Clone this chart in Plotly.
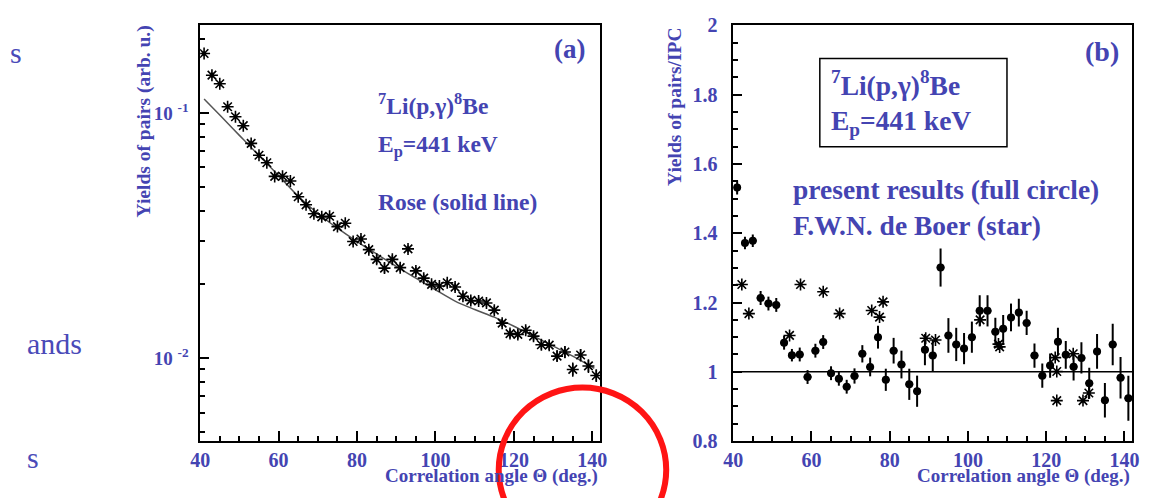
import plotly.graph_objects as go
from plotly.subplots import make_subplots

# ---------------- data: panel (a) ----------------
angle_a = [41, 43, 45, 47, 49, 51, 53, 55, 57, 59, 61, 63, 65, 67, 69, 71, 73, 75, 77, 79,
           81, 83, 85, 87, 89, 91, 93, 95, 97, 99, 101, 103, 105, 107, 109, 111, 113, 115, 117, 119,
           121, 123, 125, 127, 129, 131, 133, 135, 137, 139, 141]
yield_a = [0.1746, 0.1425, 0.1315, 0.106, 0.0965, 0.0887, 0.0751, 0.0672, 0.0626, 0.0551,
           0.0552, 0.0528, 0.0455, 0.0422, 0.0388, 0.0377, 0.0379, 0.0344, 0.0355, 0.0299,
           0.0306, 0.0277, 0.0253, 0.0233, 0.0253, 0.0234, 0.0279, 0.0227, 0.0212, 0.0200,
           0.0197, 0.0203, 0.0195, 0.0179, 0.0172, 0.0171, 0.0168, 0.0157, 0.0139, 0.0126,
           0.0125, 0.0130, 0.0123, 0.01135, 0.0113, 0.0102, 0.0106, 0.0090, 0.0103, 0.0093, 0.0085]
yield_a_err = [0.004, 0.0035, 0.0033, 0.0027, 0.0024, 0.0022, 0.0019, 0.0017, 0.0016, 0.0014,
               0.0014, 0.0013, 0.0011, 0.0011, 0.0010, 0.0010, 0.0010, 0.0009, 0.0010, 0.0009,
               0.0010, 0.0010, 0.0011, 0.0011, 0.0010, 0.0009, 0.0009, 0.0008, 0.0008, 0.0007,
               0.0007, 0.0007, 0.0007, 0.0006, 0.0006, 0.0006, 0.0006, 0.0006, 0.0005, 0.0005,
               0.0005, 0.0005, 0.0005, 0.0005, 0.0005, 0.0005, 0.0006, 0.0006, 0.0006, 0.0006, 0.0005]
rose_angle = [41, 45, 50, 55, 60, 65, 70, 75, 80, 85, 90, 95, 100, 105, 110, 115, 120, 125, 130, 135, 140.5]
rose_yield = [0.114, 0.098, 0.081, 0.067, 0.0555, 0.0457, 0.0389, 0.0339, 0.0299, 0.0266, 0.0237,
              0.0212, 0.0190, 0.0171, 0.0158, 0.0147, 0.0135, 0.0123, 0.0112, 0.0102, 0.0091]

# ---------------- data: panel (b) ----------------
angle_b = angle_a
ratio_b = [1.532, 1.372, 1.378, 1.213, 1.197, 1.193, 1.084, 1.048, 1.050, 0.985,
           1.061, 1.086, 0.996, 0.980, 0.957, 0.988, 1.052, 1.014, 1.100, 0.977,
           1.061, 1.021, 0.964, 0.944, 1.064, 1.047, 1.301, 1.105, 1.079, 1.067,
           1.100, 1.176, 1.176, 1.116, 1.124, 1.157, 1.171, 1.141, 1.047, 0.989,
           1.018, 1.087, 1.049, 1.015, 1.040, 0.967, 1.059, 0.918, 1.079, 0.983, 0.924]
ratio_b_err = [0.020, 0.018, 0.018, 0.020, 0.020, 0.020, 0.020, 0.018, 0.020, 0.020,
               0.020, 0.020, 0.020, 0.020, 0.020, 0.022, 0.025, 0.027, 0.033, 0.032,
               0.037, 0.040, 0.045, 0.045, 0.045, 0.045, 0.055, 0.050, 0.048, 0.045,
               0.045, 0.045, 0.045, 0.040, 0.040, 0.040, 0.040, 0.035, 0.035, 0.035,
               0.035, 0.040, 0.040, 0.040, 0.045, 0.045, 0.050, 0.050, 0.060, 0.060, 0.065]
boer_angle = [42.2, 44.0, 54.4, 57.2, 63.0, 67.2, 75.4, 77.4, 78.3, 89.2, 91.7, 103.1,
              107.8, 108.1, 122.3, 122.7, 122.7, 126.9, 129.4, 130.9]
boer_ratio = [1.252, 1.168, 1.105, 1.252, 1.231, 1.168, 1.177, 1.158, 1.202, 1.097, 1.092, 1.150,
              1.080, 1.072, 1.041, 1.001, 0.917, 1.052, 0.917, 0.939]
reference_ratio = 1.0

x_ticks = [40, 60, 80, 100, 120, 140]
log_tickvals = [0.01, 0.1]
log_ticktext = ["10 <sup>-2</sup>", "10 <sup>-1</sup>"]
log_minor = [0.005, 0.006, 0.007, 0.008, 0.009, 0.02, 0.03, 0.04, 0.05, 0.06, 0.07, 0.08, 0.09, 0.2]

# ---------------- style ----------------
W, H = 1158, 498
BLUE = "#4444b2"
SERIF = "Liberation Serif"


def px(x):
    """window pixel x -> paper fraction"""
    return x / W


def py(y):
    """window pixel y -> paper fraction"""
    return 1 - y / H


fig = make_subplots(rows=1, cols=2)

fig.add_trace(go.Scatter(x=rose_angle, y=rose_yield, mode="lines",
                         line=dict(color="#555555", width=1.5, shape="spline"),
                         showlegend=False), row=1, col=1)
fig.add_trace(go.Scatter(x=angle_a, y=yield_a, mode="markers",
                         marker=dict(symbol="asterisk-open", size=10, color="black",
                                     line=dict(color="black", width=1.6)),
                         error_y=dict(type="data", array=yield_a_err, color="black",
                                      thickness=1.5, width=0),
                         showlegend=False), row=1, col=1)

fig.add_trace(go.Scatter(x=boer_angle, y=boer_ratio, mode="markers",
                         marker=dict(symbol="asterisk-open", size=10, color="black",
                                     line=dict(color="#222222", width=1.6)),
                         showlegend=False), row=1, col=2)
fig.add_trace(go.Scatter(x=angle_b, y=ratio_b, mode="markers",
                         marker=dict(symbol="circle", size=8, color="black"),
                         error_y=dict(type="data", array=ratio_b_err, color="black",
                                      thickness=2, width=0),
                         error_x=dict(type="constant", value=1.0, color="black",
                                      thickness=2, width=0),
                         showlegend=False), row=1, col=2)

tickfont = dict(family=SERIF, size=20, color=BLUE, weight="bold")
axis_common = dict(showline=True, linecolor="black", linewidth=1.5, mirror=True,
                   showgrid=False, zeroline=False, ticks="inside", tickcolor="black",
                   tickwidth=1.5, tickfont=tickfont)

xa = dict(axis_common, range=[40, 142], tickvals=x_ticks, ticklen=10,
          ticklabelstandoff=0,
          minor=dict(dtick=5, tick0=40, ticks="inside", ticklen=5, tickcolor="black", tickwidth=1.5))
y_top, y_bot = 15, 450
fig.update_layout(
    xaxis=dict(xa, domain=[px(193), px(599)]),
    xaxis2=dict(xa, domain=[px(734), px(1139)]),
    yaxis=dict(axis_common, type="log", range=[-2.338, -0.643], domain=[py(y_bot), py(y_top)],
               tickvals=log_tickvals, ticktext=log_ticktext, ticklen=9,
               tickfont=dict(tickfont, size=19), ticklabelstandoff=6,
               minor=dict(tickvals=log_minor, ticks="inside", ticklen=5, tickcolor="black", tickwidth=1.5)),
    yaxis2=dict(axis_common, range=[0.8, 2.0], domain=[py(y_bot), py(y_top)],
                dtick=0.2, tick0=0.8, ticklen=9, ticklabelstandoff=10,
                minor=dict(dtick=0.05, ticks="inside", ticklen=5, tickcolor="black", tickwidth=1.5)),
    width=W, height=H, margin=dict(l=0, r=0, t=0, b=0),
    paper_bgcolor="white", plot_bgcolor="white",
)

ann = []


def text(x, y, s, size, xanchor="left", yanchor="middle", angle=0, weight="bold", family=SERIF, color=BLUE):
    ann.append(dict(x=px(x), y=py(y), xref="paper", yref="paper", text=s, showarrow=False,
                    xanchor=xanchor, yanchor=yanchor, textangle=angle,
                    font=dict(family=family, size=size, color=color, weight=weight)))


# axis titles
text(599, 486, "Correlation angle Θ (deg.)", 19, xanchor="right")
text(1139, 486, "Correlation angle Θ (deg.)", 19, xanchor="right")
text(136, 13, "Yields of pairs (arb. u.)", 19.5, xanchor="center", yanchor="top", angle=-90)
text(675, 15, "Yields of pairs/IPC", 19.5, xanchor="center", yanchor="top", angle=-90)

# panel (a) texts
text(586, 40, "(a)", 27, xanchor="right")
text(371, 97, "<sup>7</sup>Li(p,γ)<sup>8</sup>Be", 23.5)
text(371, 141, "E<sub>p</sub>=441 keV", 23.5)
text(371, 200, "Rose (solid line)", 23.5)

# panel (b) texts
text(1128, 42, "(b)", 28, xanchor="right")
text(831, 76, "<sup>7</sup>Li(p,γ)<sup>8</sup>Be", 27.5)
text(831, 117, "E<sub>p</sub>=441 keV", 27.5)
text(793, 187, "present results (full circle)", 27.5)
text(793, 224, "F.W.N. de Boer (star)", 27.5)

# fragments of surrounding page text
text(-2, 43, "s", 30, weight="normal", color="#4a4ab8")
text(15, 348, "ands", 30, weight="normal", color="#4a4ab8")
text(15, 467, "s", 30, weight="normal", color="#4a4ab8")

fig.layout.annotations = ann

fig.layout.shapes = [
    dict(type="line", xref="x2 domain", yref="y2", x0=0, x1=1, y0=reference_ratio, y1=reference_ratio,
         line=dict(color="black", width=1.5)),
    dict(type="rect", xref="x2 domain", yref="y2 domain", x0=0.217, x1=0.686, y0=0.708, y1=0.920,
         line=dict(color="black", width=1.5), fillcolor="rgba(0,0,0,0)"),
    dict(type="circle", xref="paper", yref="paper", layer="above",
         x0=px(581 - 85), x1=px(581 + 85), y0=py(480 + 86), y1=py(480 - 86),
         line=dict(color="#ff1414", width=6), fillcolor="rgba(0,0,0,0)"),
]

fig.write_html("out.html", config={"displayModeBar": False})
